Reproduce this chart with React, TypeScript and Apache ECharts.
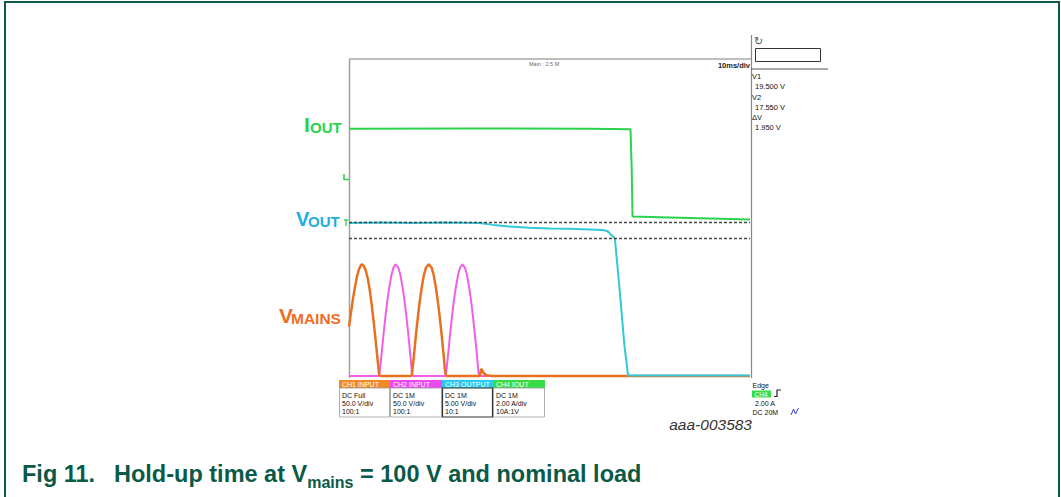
import { useEffect, useRef } from "react";
import * as echarts from "echarts";

// ---- data (time in ms, 10 ms/div) ----
const timeRangeMs = [0, 100];
const mainsCh1Data: [number, number][] = [
  [0, 62], [0.5, 80], [1, 97], [1.5, 112], [2, 125], [2.5, 134], [3, 139], [3.3, 140], [3.7, 138], [4.2, 132],
  [4.7, 122], [5.2, 107], [5.7, 88], [6.2, 66], [6.7, 42], [7.1, 22], [7.5, 2], [7.8, 0],
  [15.4, 0], [15.7, 2], [16.2, 26], [16.7, 52], [17.2, 75], [17.7, 96], [18.2, 113], [18.7, 127], [19.2, 136],
  [19.9, 140], [20.6, 136], [21.1, 127], [21.6, 113], [22.1, 96], [22.6, 75], [23.1, 52], [23.6, 26], [24.0, 4], [24.3, 0],
  [32.6, 0], [33.0, 9], [33.5, 4], [34.3, 1], [35.5, 0], [100, 0],
];
const mainsCh2Data: [number, number][] = [
  [0, 0], [7.3, 0], [7.6, 3], [8.1, 26], [8.6, 52], [9.1, 75], [9.6, 96], [10.1, 113], [10.6, 127], [11.1, 136],
  [11.6, 140], [12.3, 136], [12.8, 127], [13.3, 113], [13.8, 96], [14.3, 75], [14.8, 52], [15.3, 26], [15.7, 3], [15.9, 0],
  [24.0, 0], [24.2, 3], [24.7, 26], [25.2, 52], [25.7, 75], [26.2, 96], [26.7, 113], [27.2, 127], [27.7, 136],
  [28.3, 140], [28.9, 136], [29.4, 127], [29.9, 113], [30.4, 96], [30.9, 75], [31.4, 52], [31.9, 26], [32.3, 4], [32.5, 0], [100, 0],
];
const voutData: [number, number][] = [
  [0, 19.45], [8, 19.5], [16, 19.45], [24, 19.5], [32.5, 19.45], [36, 19.2], [40, 19.0], [45, 18.85], [50, 18.75],
  [55, 18.7], [60, 18.62], [63.3, 18.55], [64.5, 18.4], [66.3, 17.5], [67.5, 11], [68.7, 4], [69.6, 0.3], [100, 0.3],
];
const ioutData: [number, number][] = [
  [0, 4.5], [30, 4.52], [60, 4.5], [70.2, 4.48], [70.5, 2.5], [70.7, 0.1], [80, 0.05], [100, -0.05],
];
const cursorValues = [19.5, 17.55];
const cursorTexts = ["V1", "19.500 V", "V2", "17.550 V", "ΔV", "1.950 V"];
const channelTitles = ["CH1 INPUT", "CH2 INPUT", "CH3 OUTPUT", "CH4 IOUT"];
const channelSettings = [
  ["DC Full", "50.0 V/div", "100:1"],
  ["DC 1M", "50.0 V/div", "100:1"],
  ["DC 1M", "5.00 V/div", "10:1"],
  ["DC 1M", "2.00 A/div", "10A:1V"],
];
const triggerTexts = ["Edge", "CH4", "2.00 A", "DC 20M"];

const FONT = '"Liberation Sans", Arial, sans-serif';
const C_ORANGE = "#e8711f";
const C_MAGENTA = "#f25ee8";
const C_CYAN = "#2fc9d9";
const C_GREEN = "#2bd34c";
const C_FRAME = "#0b5a48";

function measure(text: string, font: string): number {
  const c = document.createElement("canvas").getContext("2d");
  if (!c) return text.length * 10;
  c.font = font;
  return c.measureText(text).width;
}

export default function App() {
  const ref = useRef<HTMLDivElement>(null);
  useEffect(() => {
    document.body.style.margin = "0";
    if (!ref.current) return;
    const chart = echarts.init(ref.current, undefined, { renderer: "svg" });

    const capFont = `bold 23.5px ${FONT}`;
    const subFont = `bold 16px ${FONT}`;
    const cap1 = "Hold-up time at V";
    const cap2 = "mains";
    const cap3 = " = 100 V and nominal load";
    const w1 = measure(cap1, capFont);
    const w2 = measure(cap2, subFont);
    const capX = 114;
    const capY = 474;

    const txt = (x: number, y: number, text: string, size: number, fill = "#111", extra: any = {}) => ({
      type: "text",
      x,
      y,
      silent: true,
      style: { text, fill, font: `${extra.weight || "normal"} ${size}px ${FONT}`, verticalAlign: "middle", align: extra.align || "left" },
    });

    const boxColors = ["#f08a24", "#ee48ee", "#26cbee", "#36dc46"];
    const boxX = [339, 390, 442, 493];
    const boxW = [51, 52, 51, 52];
    const channelGraphics: any[] = [];
    channelTitles.forEach((t, i) => {
      channelGraphics.push({ type: "rect", shape: { x: boxX[i], y: 380, width: boxW[i], height: 8 }, style: { fill: boxColors[i] }, silent: true });
      channelGraphics.push({ type: "rect", shape: { x: boxX[i] + 0.5, y: 388, width: boxW[i] - 1, height: 29 }, style: { fill: "#fff", stroke: i === 2 ? "#333" : "#999", lineWidth: i === 2 ? 1.2 : 0.8 }, silent: true });
      channelGraphics.push(txt(boxX[i] + 3, 384.5, t, 7, "#fff"));
      channelSettings[i].forEach((s, j) => channelGraphics.push(txt(boxX[i] + 3, 395 + j * 8.3, s, 7, "#111")));
    });

    const cursorGraphics = cursorTexts.map((t, i) => txt(i % 2 === 0 ? 752 : 755, 76.7 + i * 10.2, t, 7.5, "#111"));

    const option: any = {
      animation: false,
      backgroundColor: "#ffffff",
      grid: { left: 349, top: 59, width: 401, height: 319, containLabel: false },
      xAxis: { type: "value", min: timeRangeMs[0], max: timeRangeMs[1], interval: 10, show: false },
      yAxis: [
        { type: "value", min: -2.5, max: 397.5, show: false },
        { type: "value", min: 0, max: 40, show: false },
        { type: "value", min: -8, max: 8, show: false },
      ],
      series: [
        { name: "CH2", type: "line", yAxisIndex: 0, data: mainsCh2Data, showSymbol: false, z: 2, lineStyle: { color: C_MAGENTA, width: 2 }, itemStyle: { color: C_MAGENTA } },
        { name: "CH1", type: "line", yAxisIndex: 0, data: mainsCh1Data, showSymbol: false, z: 3, lineStyle: { color: C_ORANGE, width: 2.5 }, itemStyle: { color: C_ORANGE } },
        {
          name: "CH3", type: "line", yAxisIndex: 1, data: voutData, showSymbol: false, z: 4,
          lineStyle: { color: C_CYAN, width: 2 }, itemStyle: { color: C_CYAN },
          markLine: {
            silent: true, symbol: "none", label: { show: false },
            lineStyle: { color: "#444", type: [3, 2], width: 1.3 },
            data: cursorValues.map((v) => ({ yAxis: v })),
          },
        },
        { name: "CH4", type: "line", yAxisIndex: 2, data: ioutData, showSymbol: false, z: 5, lineStyle: { color: C_GREEN, width: 2 }, itemStyle: { color: C_GREEN } },
      ],
      graphic: [
        { type: "rect", silent: true, shape: { x: 5, y: 2, width: 1054, height: 530 }, style: { fill: "none", stroke: C_FRAME, lineWidth: 2 } },
        // scope frame lines
        { type: "line", silent: true, shape: { x1: 349.5, y1: 59, x2: 349.5, y2: 378 }, style: { stroke: "#a0a0a0", lineWidth: 1.5 } },
        { type: "line", silent: true, shape: { x1: 349, y1: 59, x2: 751, y2: 59 }, style: { stroke: "#a8a8a8", lineWidth: 1.5 } },
        { type: "line", silent: true, shape: { x1: 751.5, y1: 35, x2: 751.5, y2: 378 }, style: { stroke: "#8a8a8a", lineWidth: 1.2 } },
        { type: "line", silent: true, shape: { x1: 751, y1: 69, x2: 828, y2: 69 }, style: { stroke: "#555", lineWidth: 1 } },
        { type: "rect", silent: true, shape: { x: 755.5, y: 48.5, width: 65, height: 13 }, style: { fill: "#fff", stroke: "#333", lineWidth: 1 } },
        { type: "text", silent: true, x: 754, y: 41, style: { text: "↻", fill: "#555", font: `11px "DejaVu Sans"`, verticalAlign: "middle" } },
        txt(529, 63.5, "Main : 2.5 M", 5.5, "#666"),
        txt(750, 65, "10ms/div", 7.5, "#222", { align: "right", weight: "bold" }),
        ...cursorGraphics,
        // channel labels on the left
        txt(304, 124.5, "I", 21, C_GREEN, { weight: "bold" }),
        txt(310, 127, "OUT", 15, C_GREEN, { weight: "bold" }),
        txt(296, 219, "V", 20, "#1eaee3", { weight: "bold" }),
        txt(308, 221, "OUT", 15, "#1eaee3", { weight: "bold" }),
        txt(279, 315.5, "V", 21, "#f06d1f", { weight: "bold" }),
        txt(291, 318, "MAINS", 15.5, "#f06d1f", { weight: "bold" }),
        // small level markers
        { type: "polyline", silent: true, shape: { points: [[344, 174], [344, 179.5], [349, 179.5]] }, style: { stroke: C_GREEN, lineWidth: 1.5, fill: "none" } },
        { type: "polyline", silent: true, shape: { points: [[344, 220], [348.5, 220]] }, style: { stroke: C_GREEN, lineWidth: 1.3, fill: "none" } },
        { type: "polyline", silent: true, shape: { points: [[346, 220], [346, 226]] }, style: { stroke: C_GREEN, lineWidth: 1.3, fill: "none" } },
        // channel boxes
        ...channelGraphics,
        // trigger panel
        txt(752.5, 385, triggerTexts[0], 7, "#111"),
        { type: "rect", silent: true, shape: { x: 752, y: 390.5, width: 19, height: 7 }, style: { fill: "#36dc46" } },
        txt(754.5, 394, triggerTexts[1], 6.5, "#fff"),
        { type: "polyline", silent: true, shape: { points: [[774, 396.5], [777, 396.5], [777, 390], [781, 390]] }, style: { stroke: "#222", lineWidth: 1.2, fill: "none" } },
        txt(755, 403.3, triggerTexts[2], 7, "#111"),
        txt(752.5, 412.5, triggerTexts[3], 7, "#111"),
        { type: "polyline", silent: true, shape: { points: [[791, 415], [793.5, 409], [795.5, 414], [798.5, 408]] }, style: { stroke: "#3344cc", lineWidth: 1, fill: "none" } },
        // figure code
        { type: "text", silent: true, x: 752, y: 424, style: { text: "aaa-003583", fill: "#333", font: `italic 15.5px ${FONT}`, align: "right", verticalAlign: "middle" } },
        // caption
        { type: "text", silent: true, x: 22, y: capY, style: { text: "Fig 11.", fill: C_FRAME, font: capFont, verticalAlign: "middle" } },
        { type: "text", silent: true, x: capX, y: capY, style: { text: cap1, fill: C_FRAME, font: capFont, verticalAlign: "middle" } },
        { type: "text", silent: true, x: capX + w1, y: capY + 8, style: { text: cap2, fill: C_FRAME, font: subFont, verticalAlign: "middle" } },
        { type: "text", silent: true, x: capX + w1 + w2, y: capY, style: { text: cap3, fill: C_FRAME, font: capFont, verticalAlign: "middle" } },
      ],
    };
    chart.setOption(option);
    return () => chart.dispose();
  }, []);
  return <div ref={ref} style={{ width: 1061, height: 497 }} />;
}
